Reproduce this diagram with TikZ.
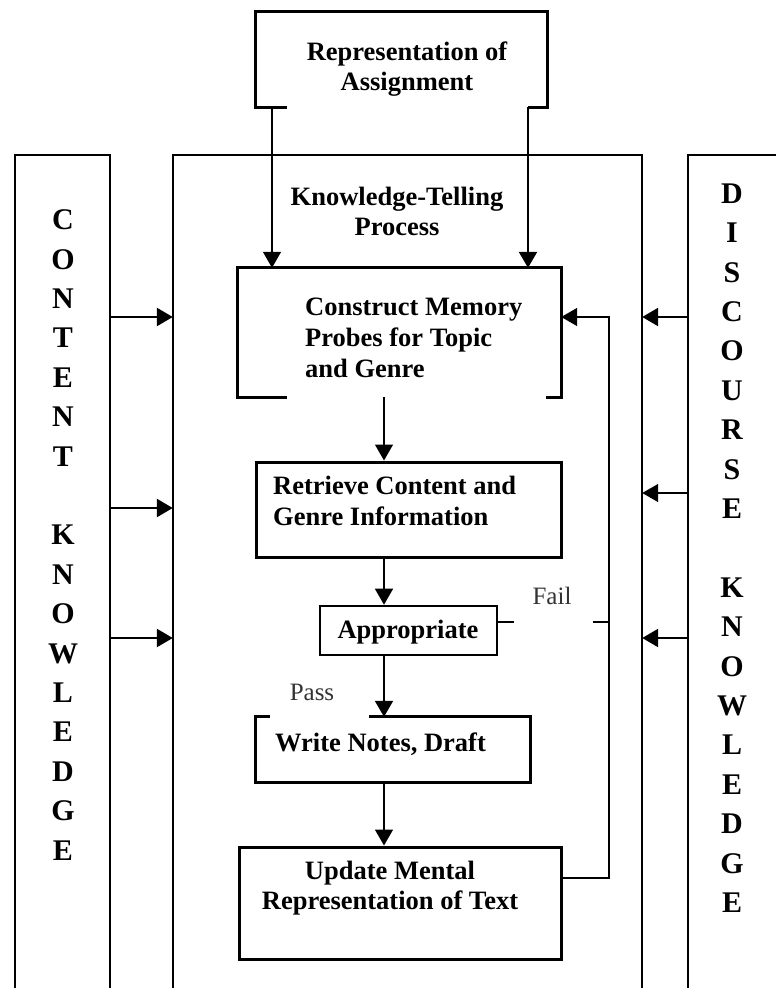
\documentclass[tikz,border=0pt]{standalone}
\usepackage{fontspec}
\setmainfont{Liberation Serif}
\usetikzlibrary{arrows.meta,calc}
\begin{document}
\begin{tikzpicture}[x=1pt,y=-1pt,
  boxline/.style={line width=3pt},
  colline/.style={line width=2.5pt},
  arr/.style={-{Triangle[width=18pt,length=16pt]}},
  boxtext/.style={font=\fontsize{26.5}{31}\selectfont\bfseries, inner sep=0pt, align=left},
  ctext/.style={font=\fontsize{26.5}{30}\selectfont\bfseries, inner sep=0pt, align=center},
  sidetext/.style={font=\fontsize{30}{39.4}\selectfont\bfseries, inner sep=0pt, align=center},
  lbl/.style={font=\fontsize{25}{30}\selectfont, inner sep=0pt, text=black!80},
  box/.style={draw, rectangle, inner sep=0pt, line width=3pt},
  ghost/.style={rectangle, inner sep=0pt}
]
\useasboundingbox (0,0) rectangle (776,988);

% ---- outer columns (open at the bottom) ----
\node[ghost, minimum width=95pt, minimum height=833pt] (content) at (62.5,571.5) {};
\node[ghost, minimum width=469pt, minimum height=833pt] (process) at (407.5,571.5) {};
\node[ghost, minimum width=100pt, minimum height=833pt] (discourse) at (738,571.5) {};
\draw[colline] (content.south west) -- (content.north west) -- (content.north east) -- (content.south east);
\draw[colline] (process.south west) -- (process.north west) -- (process.north east) -- (process.south east);
\draw[colline] (discourse.south west) -- (discourse.north west) -- (discourse.north east);

\node[sidetext] (ctxt) at (63,535) {C\\O\\N\\T\\E\\N\\T\\[39.4pt]K\\N\\O\\W\\L\\E\\D\\G\\E};
\node[sidetext] (dtxt) at (732,548) {D\\I\\S\\C\\O\\U\\R\\S\\E\\[39.4pt]K\\N\\O\\W\\L\\E\\D\\G\\E};

% ---- Representation of Assignment (open bottom) ----
\node[ghost, minimum width=291pt, minimum height=95pt] (rep) at (401.5,59.5) {};
\draw[boxline] ($(rep.south west)+(31,0)$) -- (rep.south west) -- (rep.north west) -- (rep.north east) -- (rep.south east) -- ++(-19,0);
\node[ctext] (reptxt) at (407,69.5) {Representation of\\Assignment};

\node[ctext] (kttxt) at (397,211) {Knowledge-Telling\\Process};

% ---- Construct Memory Probes (open bottom) ----
\node[ghost, minimum width=323pt, minimum height=129pt] (construct) at (399.5,332.5) {};
\draw[boxline] ($(construct.south west)+(49,0)$) -- (construct.south west) -- (construct.north west) -- (construct.north east) -- (construct.south east) -- ++(-15,0);
\node[boxtext, anchor=west] (constxt) at (305,338) {Construct Memory\\Probes for Topic\\and Genre};

% ---- Retrieve ----
\node[box, minimum width=305pt, minimum height=95pt] (retrieve) at (408.5,509.5) {};
\node[boxtext, anchor=west] (rettxt) at (273,501) {Retrieve Content and\\Genre Information};

% ---- Appropriate ----
\node[box, line width=2.6pt, minimum width=177pt, minimum height=49pt] (appr) at (408.5,630.5) {};
\node[ctext] (apprtxt) at (408,632) {Appropriate};

% ---- Write Notes, Draft (gap in top edge) ----
\node[ghost, minimum width=274pt, minimum height=65pt] (write) at (393,749.5) {};
\draw[boxline] ($(write.north west)+(14,0)$) -- (write.north west) -- (write.south west) -- (write.south east) -- (write.north east) -- ($(write.north west)+(113,0)$);
\node[boxtext, anchor=west] (writetxt) at (275,744) {Write Notes, Draft};

% ---- Update ----
\node[box, minimum width=322pt, minimum height=112pt] (update) at (400,903) {};
\node[ctext] (updtxt) at (390,888) {Update Mental\\Representation of Text};

% ---- labels ----
\node[lbl] (fail) at (552,596) {Fail};
\node[lbl] (pass) at (312,692.5) {Pass};

% ---- coordinates for connector columns ----
\coordinate (ax) at (384,0);
\coordinate (rl) at (272,0);
\coordinate (rr) at (528,0);
\coordinate (fbx) at (609,0);
\coordinate (fbtop) at (0,317);
\coordinate (fbbot) at (0,878);
\coordinate (failrow) at (0,622);
\coordinate (h1) at (0,317);
\coordinate (h2) at (0,508);
\coordinate (h3) at (0,638);
\coordinate (d2) at (0,493);

% ---- vertical arrows ----
\draw[arr, line width=1.5pt] (rl |- rep.south) -- (rl |- construct.north);
\draw[arr, line width=2.5pt] (rr |- rep.south) -- (rr |- construct.north);
\draw[arr, line width=1.4pt] (ax |- construct.south) -- (ax |- retrieve.north);
\draw[arr, line width=1.6pt] (ax |- retrieve.south) -- (ax |- appr.north);
\draw[arr, line width=2pt] (ax |- appr.south) -- (ax |- write.north);
\draw[arr, line width=1.6pt] (ax |- write.south) -- (ax |- update.north);

% ---- feedback loop ----
\draw[arr, line width=1.4pt] (update.east |- fbbot) -- (fbx |- fbbot) -- (fbx |- fbtop) -- (construct.east |- fbtop);
\draw[line width=1.6pt] (appr.east |- failrow) -- ++(16,0);
\draw[line width=1.6pt] ($(fbx |- failrow)+(-16,0)$) -- (fbx |- failrow);

% ---- knowledge arrows ----
\draw[arr, line width=2.5pt] (content.east |- h1) -- (process.west |- h1);
\draw[arr, line width=2.5pt] (content.east |- h2) -- (process.west |- h2);
\draw[arr, line width=2.5pt] (content.east |- h3) -- (process.west |- h3);
\draw[arr, line width=2.5pt] (discourse.west |- h1) -- (process.east |- h1);
\draw[arr, line width=1.3pt] (discourse.west |- d2) -- (process.east |- d2);
\draw[arr, line width=2.5pt] (discourse.west |- h3) -- (process.east |- h3);
\end{tikzpicture}
\end{document}
